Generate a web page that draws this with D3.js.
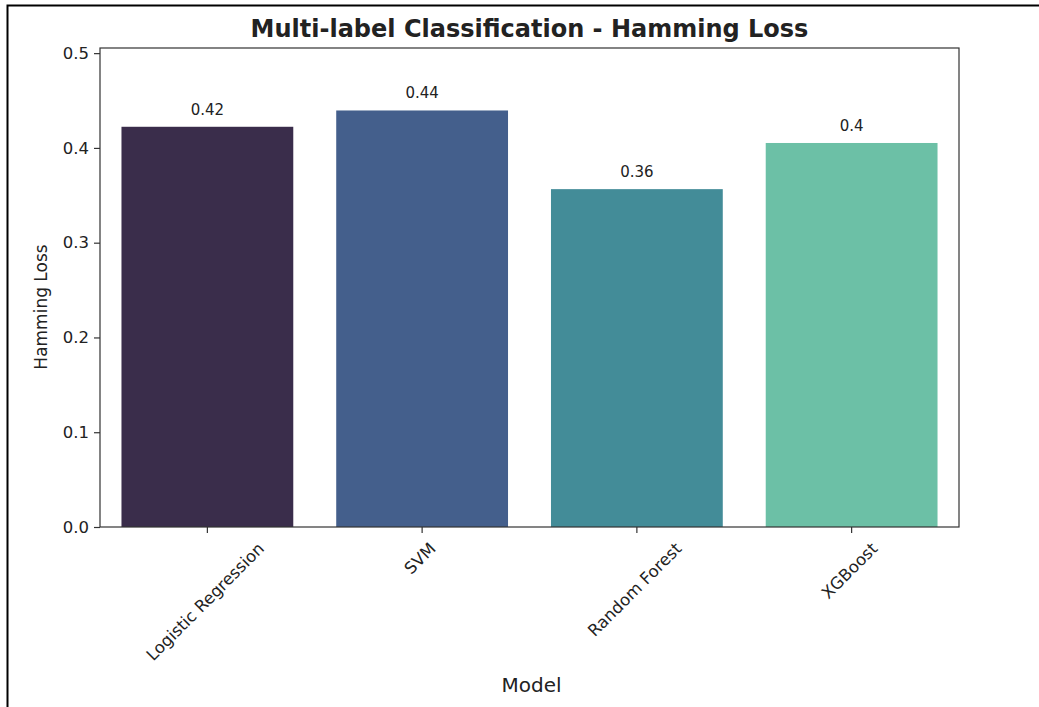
<!DOCTYPE html>
<html>
<head>
<meta charset="utf-8">
<script src="https://cdn.jsdelivr.net/npm/d3@7"></script>
<style>
  html, body { margin: 0; padding: 0; background: #fff; }
  svg { display: block; }
  text { font-family: "DejaVu Sans", sans-serif; fill: #222; }
</style>
</head>
<body>
<svg id="chart" width="1039" height="707"></svg>
<script>
// ---- data ----
const models = ["Logistic Regression", "SVM", "Random Forest", "XGBoost"];
const hammingLoss = [0.4223, 0.4395, 0.3565, 0.4052];
const valueLabels = ["0.42", "0.44", "0.36", "0.4"];
const barColors = ["#3a2d4b", "#445f8c", "#438c98", "#6cc0a6"];
const yTicks = [0.0, 0.1, 0.2, 0.3, 0.4, 0.5];
const titleText = "Multi-label Classification - Hamming Loss";
const xLabelText = "Model";
const yLabelText = "Hamming Loss";

// ---- layout ----
const W = 1039, H = 707;
const plot = { left: 100, right: 959, top: 48, bottom: 527 };
const svg = d3.select("#chart");

// outer frame (top + left visible)
svg.append("rect")
  .attr("x", 7.5).attr("y", 5.5)
  .attr("width", W + 10).attr("height", H + 10)
  .attr("fill", "none").attr("stroke", "#000").attr("stroke-width", 2);

const yMax = d3.max(hammingLoss) * 1.15;
const y = d3.scaleLinear().domain([0, yMax]).range([plot.bottom, plot.top]);
const x = d3.scaleBand().domain(models).range([plot.left, plot.right]).paddingInner(0.2).paddingOuter(0.1);

// bars
svg.append("g").selectAll("rect").data(models).join("rect")
  .attr("x", d => x(d))
  .attr("y", (d, i) => y(hammingLoss[i]))
  .attr("width", x.bandwidth())
  .attr("height", (d, i) => y(0) - y(hammingLoss[i]))
  .attr("fill", (d, i) => barColors[i]);

// value labels
svg.append("g").selectAll("text").data(models).join("text")
  .attr("x", d => x(d) + x.bandwidth() / 2)
  .attr("y", (d, i) => y(hammingLoss[i]) - 12)
  .attr("text-anchor", "middle")
  .attr("font-size", 15)
  .text((d, i) => valueLabels[i]);

// y axis
const yAxis = d3.axisLeft(y).tickValues(yTicks).tickFormat(d3.format(".1f")).tickSize(6).tickPadding(5);
const gy = svg.append("g").attr("transform", `translate(${plot.left},0)`).call(yAxis);
gy.select(".domain").remove();
gy.selectAll(".tick line").attr("stroke", "#333").attr("stroke-width", 1.2);
gy.selectAll(".tick text").attr("font-size", 16.5).attr("font-family", "DejaVu Sans").attr("fill", "#222");

// x axis
const xFont = 16.5;
const xAxis = d3.axisBottom(x).tickSize(6).tickPadding(6);
const gx = svg.append("g").attr("transform", `translate(0,${plot.bottom})`).call(xAxis);
gx.select(".domain").remove();
gx.selectAll(".tick line").attr("stroke", "#333").attr("stroke-width", 1.2);
gx.selectAll(".tick text")
  .attr("font-size", xFont).attr("font-family", "DejaVu Sans").attr("fill", "#222")
  .attr("dy", null)
  .attr("text-anchor", "middle")
  .attr("dominant-baseline", "central")
  .each(function () {
    const L = this.getComputedTextLength();
    const side = (L + xFont) / Math.SQRT2;
    const cy = 6 + 7 + side / 2;
    d3.select(this).attr("y", 0).attr("transform", `translate(-2,${cy}) rotate(-45)`);
  });

// frame
svg.append("rect")
  .attr("x", plot.left).attr("y", plot.top)
  .attr("width", plot.right - plot.left).attr("height", plot.bottom - plot.top)
  .attr("fill", "none").attr("stroke", "#333").attr("stroke-width", 1.2);

// title
svg.append("text")
  .attr("x", (plot.left + plot.right) / 2).attr("y", 37)
  .attr("text-anchor", "middle").attr("font-weight", "bold").attr("font-size", 24)
  .attr("fill", "#111")
  .text(titleText);

// x label
svg.append("text")
  .attr("x", (plot.left + plot.right) / 2 + 2).attr("y", 692)
  .attr("text-anchor", "middle").attr("font-size", 20)
  .text(xLabelText);

// y label
svg.append("text")
  .attr("transform", `translate(47,307) rotate(-90)`)
  .attr("text-anchor", "middle").attr("font-size", 17)
  .text(yLabelText);
</script>
</body>
</html>
